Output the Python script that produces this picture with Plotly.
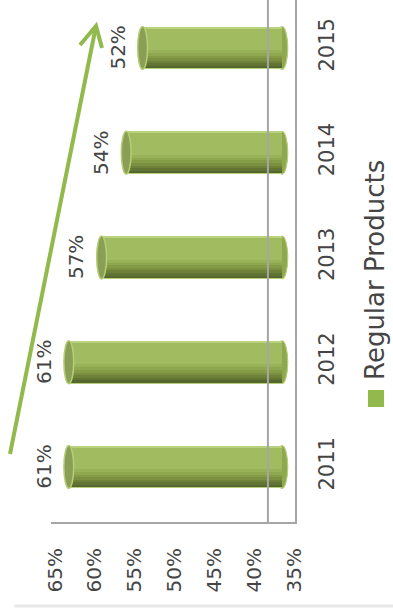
import plotly.graph_objects as go

years = ["2011", "2012", "2013", "2014", "2015"]
share = [61, 61, 57, 54, 52]
tick_vals = [35, 40, 45, 50, 55, 60, 65]
tick_text = ["35%", "40%", "45%", "50%", "55%", "60%", "65%"]
series_name = "Regular Products"
base_value = 35

FONT = "DejaVu Sans"
TXT = "#454545"
GRID = "#A6A6A6"

BAR_RANGE = [63.17, 33.415]
W = 0.41  # bar thickness in category units
layers = [
    (0.000, "#B5CF78"), (0.025, "#56662F"), (0.08, "#627434"), (0.14, "#6E823A"),
    (0.20, "#7A8F40"), (0.26, "#859C47"), (0.32, "#8FA84F"), (0.38, "#98B257"),
    (0.45, "#A0BB60"), (0.965, "#B8D27E"),
]

fig = go.Figure()
for f, col in layers:
    fig.add_trace(go.Bar(
        y=years, x=[v - base_value for v in share], base=base_value,
        orientation="h", width=W * (1 - f), offset=-W / 2 + f * W,
        marker=dict(color=col, line=dict(width=0)),
        showlegend=False, hoverinfo="skip", xaxis="x", yaxis="y",
    ))

# dummy trace for the visible value axis
fig.add_trace(go.Scatter(x=[min(tick_vals), max(tick_vals)], y=[years[0], years[0]],
                         mode="markers", marker=dict(opacity=0), xaxis="x2", yaxis="y",
                         showlegend=False, hoverinfo="skip"))

shapes = []
for i, v in enumerate(share):
    # rounded base end
    shapes.append(dict(type="circle", xref="x", yref="y", layer="below",
                       x0=base_value - 0.7, x1=base_value + 0.7, y0=i - W / 2, y1=i + W / 2,
                       fillcolor="#8EA84E", line=dict(color="#B5CF78", width=1.2)))
    # top cap
    shapes.append(dict(type="circle", xref="x", yref="y", layer="above",
                       x0=v - 0.6, x1=v + 0.6, y0=i - W / 2, y1=i + W / 2,
                       fillcolor="#8A9F55", line=dict(color="#B5CF78", width=1.5)))

# 3D floor line
shapes.append(dict(type="line", xref="paper", yref="paper", x0=0.889, x1=0.889, y0=0, y1=1,
                   line=dict(color=GRID, width=2)))
# arrow
shapes.append(dict(type="line", xref="paper", yref="paper", x0=-0.168, y0=0.1303,
                   x1=0.1844, y1=0.9502, line=dict(color="#92B94B", width=4)))
shapes.append(dict(type="path", xref="paper", yref="paper",
                   path="M 0.1189 0.9138 L 0.1844 0.9502 L 0.209 0.908",
                   line=dict(color="#92B94B", width=4)))
# legend swatch
shapes.append(dict(type="rect", xref="paper", yref="paper", x0=1.299, x1=1.365,
                   y0=0.2203, y1=0.2529, fillcolor="#92B94B", line=dict(width=0)))
# bottom strip
shapes.append(dict(type="line", xref="paper", yref="paper", x0=-0.15, x1=1.41,
                   y0=-0.161, y1=-0.161, line=dict(color="#E8E8E8", width=3)))

annotations = []
for i, v in enumerate(share):
    xp = (BAR_RANGE[0] - v) / (BAR_RANGE[0] - BAR_RANGE[1])
    annotations.append(dict(x=xp, y=i, xref="paper", yref="y", text=f"{v}%",
                            showarrow=False, textangle=-90, xanchor="center", yanchor="middle",
                            xshift=-25, font=dict(family=FONT, size=20, color=TXT)))
annotations.append(dict(x=1.328, y=0.4828, xref="paper", yref="paper", text=series_name,
                        showarrow=False, textangle=-90, xanchor="center", yanchor="middle",
                        font=dict(family=FONT, size=26, color=TXT)))

fig.update_layout(
    width=393, height=608, margin=dict(l=51, r=98, t=0, b=86),
    paper_bgcolor="white", plot_bgcolor="rgba(0,0,0,0)",
    barmode="overlay", bargap=0,
    xaxis=dict(range=BAR_RANGE, showticklabels=False, showgrid=False,
               zeroline=False, showline=False, ticks=""),
    xaxis2=dict(range=[65.5, 34.99], overlaying="x", side="bottom", anchor="y",
                tickvals=tick_vals, ticktext=tick_text, tickangle=-90,
                showgrid=False, zeroline=False, showline=True, linecolor=GRID, linewidth=2,
                ticks="", ticklabelstandoff=16,
                tickfont=dict(family=FONT, size=20, color=TXT)),
    yaxis=dict(type="category", categoryorder="array", categoryarray=years,
               range=[-0.525, 4.458], side="right", tickangle=-90,
               showgrid=False, zeroline=False, showline=True, linecolor=GRID, linewidth=2,
               ticks="", ticklabelstandoff=12,
               tickfont=dict(family=FONT, size=21, color=TXT)),
    shapes=shapes, annotations=annotations,
)

fig.write_html("out.html")
